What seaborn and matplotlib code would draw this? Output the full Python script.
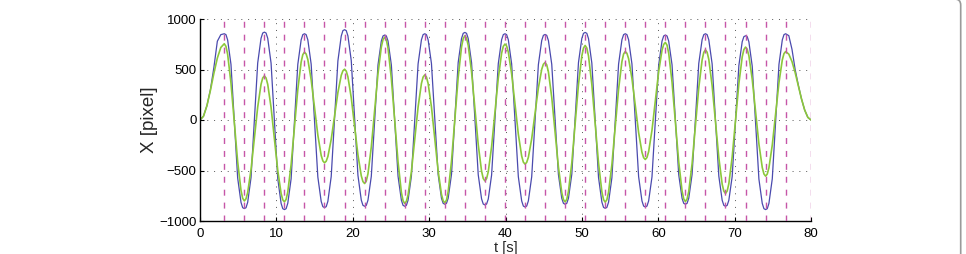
import numpy as np
import pandas as pd
import matplotlib
matplotlib.use("Agg")
import matplotlib.pyplot as plt
from matplotlib.patches import FancyBboxPatch
import seaborn as sns

# ---- data ----
# sample times: start ramp, 28 half-periods (8 samples each), end ramp
t_first_peak = 3.18
half_period = 2.625
n_half = 28
t_end = 80.0
fractions = np.array([1 / 12, 1 / 6, 2 / 6, 3 / 6, 4 / 6, 5 / 6, 11 / 12, 1.0])
t_last_peak = t_first_peak + n_half * half_period
t = np.concatenate([
    np.linspace(0, t_first_peak, 8),
    (t_first_peak + half_period * (np.arange(n_half)[:, None] + fractions[None, :])).ravel(),
    np.linspace(t_last_peak, t_end, 9)[1:],
])

x_blue = [0, 37, 142, 300, 520, 780, 845, 854,
          845, 793, 551, -11, -573, -815, -868, -877,
          -868, -815, -570, -3, 564, 809, 861, 870,
          861, 809, 563, -8, -579, -825, -878, -887,
          -878, -825, -582, -16, 550, 793, 845, 854,
          845, 794, 553, -6, -565, -806, -858, -867,
          -858, -805, -559, 13, 585, 831, 885, 894,
          885, 833, 588, 20, -548, -793, -845, -854,
          -845, -794, -557, -6, 545, 782, 832, 841,
          832, 782, 545, -6, -557, -794, -845, -854,
          -845, -794, -555, 0, 555, 794, 845, 854,
          845, 795, 559, 10, -539, -775, -825, -834,
          -825, -775, -537, 16, 569, 807, 858, 867,
          858, 807, 568, 13, -542, -781, -832, -841,
          -832, -783, -545, 6, 557, 795, 845, 854,
          845, 795, 555, -3, -561, -801, -852, -861,
          -852, -801, -562, -7, 548, 787, 838, 847,
          838, 787, 552, 6, -540, -775, -825, -834,
          -825, -775, -537, 16, 569, 807, 858, 867,
          858, 806, 563, -3, -569, -812, -865, -874,
          -865, -814, -572, -10, 552, 794, 845, 854,
          845, 795, 555, -3, -561, -801, -852, -861,
          -852, -801, -563, -10, 543, 781, 832, 841,
          832, 781, 547, 3, -541, -775, -825, -834,
          -825, -775, -539, 10, 559, 795, 845, 854,
          845, 794, 555, 0, -555, -794, -845, -854,
          -845, -795, -559, -10, 539, 775, 825, 834,
          825, 774, 533, -26, -585, -826, -878, -887,
          -878, -825, -582, -16, 550, 793, 845, 854,
          835, 700, 500, 345, 209, 99, 26, 0]

x_green = [0, 37, 142, 293, 462, 613, 718, 755,
           729, 651, 366, -23, -412, -697, -775, -801,
           -780, -718, -492, -182, 128, 354, 416, 437,
           416, 353, 125, -187, -499, -727, -790, -811,
           -786, -713, -441, -70, 301, 573, 647, 672,
           653, 599, 398, 124, -150, -351, -405, -424,
           -408, -362, -192, 40, 272, 442, 487, 503,
           484, 427, 220, -63, -346, -553, -610, -629,
           -604, -532, -267, 96, 459, 724, 796, 821,
           793, 711, 409, -3, -415, -717, -799, -827,
           -805, -742, -509, -190, 129, 362, 425, 447,
           425, 362, 130, -187, -504, -736, -799, -821,
           -793, -710, -407, 7, 421, 724, 806, 834,
           810, 739, 476, 116, -244, -507, -579, -603,
           -580, -512, -264, 75, 414, 662, 729, 752,
           732, 673, 456, 158, -140, -357, -417, -437,
           -420, -370, -186, 66, 318, 502, 552, 569,
           546, 477, 224, -121, -466, -719, -788, -811,
           -785, -708, -425, -37, 351, 634, 712, 738,
           712, 634, 350, -38, -426, -710, -788, -814,
           -789, -714, -441, -68, 305, 578, 653, 678,
           660, 607, 412, 144, -124, -319, -373, -391,
           -371, -313, -101, 189, 479, 691, 748, 768,
           741, 662, 374, -20, -414, -702, -781, -808,
           -782, -708, -433, -57, 319, 594, 669, 695,
           671, 600, 339, -17, -373, -634, -704, -728,
           -703, -631, -366, -3, 360, 625, 697, 722,
           700, 636, 403, 83, -237, -470, -534, -556,
           -535, -473, -248, 61, 370, 595, 657, 678,
           652, 579, 469, 339, 209, 99, 26, 0]

marker_times = [3.18, 5.8, 8.43, 11.05, 13.68, 16.3, 18.93, 21.55, 24.18, 26.8,
                29.43, 32.05, 34.68, 37.3, 39.93, 42.55, 45.18, 47.8, 50.43, 53.05,
                55.68, 58.3, 60.93, 63.55, 66.18, 68.8, 71.43, 74.05, 76.68, 80.0]

x_ticks = [0, 10, 20, 30, 40, 50, 60, 70, 80]
y_ticks = [-1000, -500, 0, 500, 1000]

df = pd.DataFrame({"t": t, "blue": x_blue, "green": x_green})

# ---- style ----
sns.set_style("white")
plt.rcParams["font.family"] = ["Liberation Sans", "DejaVu Sans"]

fig = plt.figure(figsize=(9.66, 2.54), dpi=100)
ax = fig.add_axes([200 / 966, 1 - 221 / 254, 611 / 966, 202 / 254])

sns.lineplot(data=df, x="t", y="blue", ax=ax, color="#4A4AAE", linewidth=0.9,
             errorbar=None, zorder=2)
sns.lineplot(data=df, x="t", y="green", ax=ax, color="#8CC83A", linewidth=1.2,
             errorbar=None, zorder=2.5)

for mt in marker_times:
    ax.axvline(mt, color="#C656A8", linewidth=1.0, linestyle=(0, (4.3, 5.0)),
               zorder=3)

ax.set_xlim(x_ticks[0], x_ticks[-1])
ax.set_ylim(y_ticks[0], y_ticks[-1])
ax.set_xticks(x_ticks)
ax.set_yticks(y_ticks)
ax.grid(True, color="#555555", linestyle=(0, (1, 6)), linewidth=0.7, zorder=1)
ax.set_axisbelow(True)

for s in ["top", "right"]:
    ax.spines[s].set_visible(False)
for s in ["left", "bottom"]:
    ax.spines[s].set_color("black")
    ax.spines[s].set_linewidth(1.0)

ax.tick_params(axis="both", direction="in", length=3, width=0.8, colors="black",
               labelsize=9.5, left=True, bottom=True)
ax.tick_params(axis="x", pad=5)
ax.tick_params(axis="y", pad=2.5)

ax.set_xlabel("t [s]", fontsize=10.5, labelpad=1)
ax.set_ylabel("X [pixel]", fontsize=13.5)
ax.yaxis.set_label_coords(-0.069, 0.5)

# panel frame (rounded corner at the right)
frame = FancyBboxPatch((-1.0, -1.0), 9.607 + 1.0, 2.55 + 1.0,
                       boxstyle="round,pad=0,rounding_size=0.06",
                       transform=fig.dpi_scale_trans, fill=False,
                       edgecolor="#9A9A9A", linewidth=1.2)
fig.add_artist(frame)

fig.savefig("out.png", dpi=100)
